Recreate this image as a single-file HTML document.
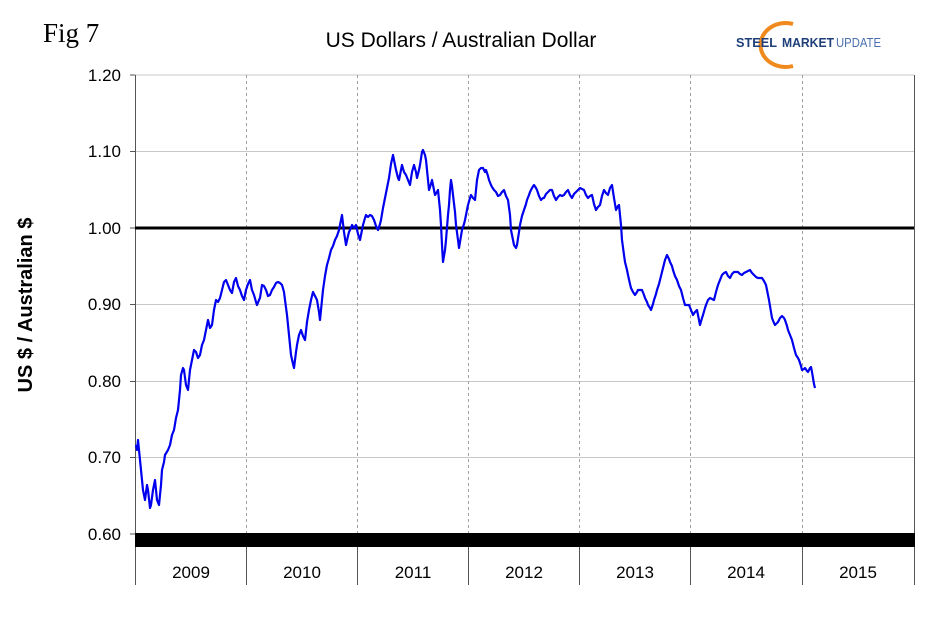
<!DOCTYPE html>
<html><head><meta charset="utf-8"><style>
html,body{margin:0;padding:0;background:#fff;}
svg{display:block;font-family:"Liberation Sans",Arial,sans-serif;}
</style></head><body>
<svg width="928" height="635" viewBox="0 0 928 635" xmlns="http://www.w3.org/2000/svg">
<rect width="928" height="635" fill="#fff"/>
<text x="43" y="42" font-family="Liberation Serif,serif" font-size="27" fill="#000">Fig 7</text>
<text x="461" y="47" font-size="21" text-anchor="middle" fill="#000">US Dollars  / Australian Dollar</text>
<!-- logo -->
<path d="M793,24 A25,22 0 1,0 793,66" fill="none" stroke="#f08a1c" stroke-width="4"/>
<text x="736" y="47" font-size="13" font-weight="bold" fill="#1f3f7a" textLength="41" lengthAdjust="spacingAndGlyphs">STEEL</text>
<text x="782" y="47" font-size="13" font-weight="bold" fill="#1f3f7a" textLength="52" lengthAdjust="spacingAndGlyphs">MARKET</text>
<text x="836" y="47" font-size="13" fill="#4a6fb0" textLength="45" lengthAdjust="spacingAndGlyphs">UPDATE</text>
<!-- grid -->
<g stroke="#c8c8c8" stroke-width="1">
<line x1="135" y1="75" x2="914" y2="75"/>
<line x1="135" y1="151.5" x2="914" y2="151.5"/>
<line x1="135" y1="304.5" x2="914" y2="304.5"/>
<line x1="135" y1="381.5" x2="914" y2="381.5"/>
<line x1="135" y1="457.5" x2="914" y2="457.5"/>
</g>
<g stroke="#a0a0a0" stroke-width="1" stroke-dasharray="3,3">
<line x1="246.5" y1="75" x2="246.5" y2="533"/>
<line x1="357.5" y1="75" x2="357.5" y2="533"/>
<line x1="468.5" y1="75" x2="468.5" y2="533"/>
<line x1="579.5" y1="75" x2="579.5" y2="533"/>
<line x1="690.5" y1="75" x2="690.5" y2="533"/>
<line x1="802.5" y1="75" x2="802.5" y2="533"/>
</g>
<line x1="914.5" y1="75" x2="914.5" y2="585" stroke="#555" stroke-width="1"/>
<line x1="135.5" y1="75" x2="135.5" y2="585" stroke="#555" stroke-width="1"/>
<g stroke="#555" stroke-width="1">
<line x1="246.5" y1="547" x2="246.5" y2="585"/>
<line x1="357.5" y1="547" x2="357.5" y2="585"/>
<line x1="468.5" y1="547" x2="468.5" y2="585"/>
<line x1="579.5" y1="547" x2="579.5" y2="585"/>
<line x1="690.5" y1="547" x2="690.5" y2="585"/>
<line x1="802.5" y1="547" x2="802.5" y2="585"/>
<line x1="130" y1="75" x2="135" y2="75"/>
<line x1="130" y1="151.5" x2="135" y2="151.5"/>
<line x1="130" y1="228" x2="135" y2="228"/>
<line x1="130" y1="304.5" x2="135" y2="304.5"/>
<line x1="130" y1="381.5" x2="135" y2="381.5"/>
<line x1="130" y1="457.5" x2="135" y2="457.5"/>
<line x1="130" y1="534" x2="135" y2="534"/>
</g>
<line x1="135" y1="228" x2="914" y2="228" stroke="#000" stroke-width="3"/>
<rect x="135" y="533" width="780" height="14" fill="#000"/>
<g font-size="17" text-anchor="end" fill="#000">
<text x="121" y="81">1.20</text>
<text x="121" y="157">1.10</text>
<text x="121" y="234">1.00</text>
<text x="121" y="310">0.90</text>
<text x="121" y="387">0.80</text>
<text x="121" y="463">0.70</text>
<text x="121" y="540">0.60</text>
</g>
<g font-size="17" text-anchor="middle" fill="#000">
<text x="191" y="578">2009</text>
<text x="302" y="578">2010</text>
<text x="413" y="578">2011</text>
<text x="524" y="578">2012</text>
<text x="635" y="578">2013</text>
<text x="746" y="578">2014</text>
<text x="858" y="578">2015</text>
</g>
<text transform="translate(32,305) rotate(-90)" font-size="20" font-weight="bold" text-anchor="middle" fill="#000">US $ / Australian $</text>
<polyline fill="none" stroke="#0000ee" stroke-width="2.2" stroke-linejoin="round" points="136,445 137,450 138,440 140,460 141,470 143,490 145,500 147,485 148,490 150,508 151,505 153,490 155,480 157,500 159,505 161,485 162,470 164,462 165,455 168,450 170,445 172,435 174,430 176,418 178,410 180,390 181,375 183,368 184,370 186,385 188,390 190,370 192,360 194,350 196,352 198,358 200,355 202,345 204,340 206,330 208,320 210,328 212,325 214,310 216,300 218,302 220,298 222,290 224,282 226,280 228,285 230,290 232,293 234,282 236,278 238,286 240,290 242,296 244,300 246,290 248,284 250,280 252,290 254,295 256,302 257,305 259,300 260,298 262,285 264,286 266,290 268,296 270,295 272,290 274,287 276,283 278,282 280,283 282,285 284,292 285,300 287,315 288,325 290,345 291,355 293,364 294,368 296,352 297,345 299,335 301,330 303,336 305,340 307,322 309,310 311,300 313,292 315,296 317,300 319,312 320,320 322,300 323,290 325,276 327,265 329,258 331,250 333,246 335,240 337,236 339,230 341,220 342,215 344,232 346,245 348,236 349,232 351,228 352,225 354,228 356,225 358,234 360,240 362,230 363,225 365,218 366,215 368,217 370,215 372,216 374,220 376,226 378,230 380,224 381,220 383,208 385,198 387,188 389,178 391,164 393,155 395,165 396,170 398,178 399,180 401,170 402,165 404,172 406,175 408,180 410,185 412,172 414,165 416,172 417,178 419,170 420,165 422,152 423,150 425,155 426,160 428,180 429,190 431,184 432,180 434,190 435,195 437,192 438,190 440,210 441,225 442,245 443,262 445,250 446,240 448,215 449,205 450,190 451,180 452,186 453,195 455,212 456,225 458,240 459,248 461,236 462,230 464,224 465,220 467,210 468,205 470,198 471,195 473,198 475,200 477,180 479,170 481,168 483,168 485,172 486,170 488,176 489,180 491,185 492,187 494,190 496,192 498,196 500,195 502,192 504,190 506,196 508,200 510,215 511,230 513,240 514,245 516,248 517,245 519,232 520,225 522,216 524,210 526,204 527,200 529,195 530,192 532,188 534,185 536,188 537,190 539,196 541,200 543,198 544,198 546,194 548,192 550,190 552,190 554,196 556,200 558,197 560,195 562,196 564,195 566,192 568,190 570,195 572,198 574,194 576,192 578,190 580,188 582,189 584,190 586,195 588,198 590,196 592,195 594,204 596,210 598,207 600,205 602,196 604,190 606,193 608,195 610,188 612,185 614,198 616,210 618,206 619,205 621,225 622,240 624,255 625,262 627,270 628,275 630,284 631,288 633,292 635,295 637,292 638,290 640,290 642,290 644,295 645,298 647,302 648,305 650,308 651,310 653,304 654,300 656,294 657,290 659,284 660,280 662,272 663,268 665,260 667,255 669,259 670,262 672,266 673,270 675,276 677,280 679,286 681,290 683,298 685,305 687,305 689,305 691,310 693,315 695,312 697,310 699,320 700,325 702,318 703,315 705,308 706,305 708,300 710,298 712,299 714,300 716,292 718,285 720,280 722,275 724,273 726,272 728,276 730,278 732,274 734,272 736,272 738,272 740,274 742,275 744,273 746,272 748,271 750,270 752,273 754,275 756,277 758,278 760,278 762,278 764,281 766,285 768,295 769,300 771,312 772,318 774,323 775,325 777,323 778,322 780,318 782,316 784,318 785,320 787,326 788,330 790,335 792,340 794,348 796,355 798,358 799,360 801,366 802,370 804,369 805,368 807,371 808,372 810,368 811,367 812,372 813,378 814,384 815,388"/>
</svg>
</body></html>
